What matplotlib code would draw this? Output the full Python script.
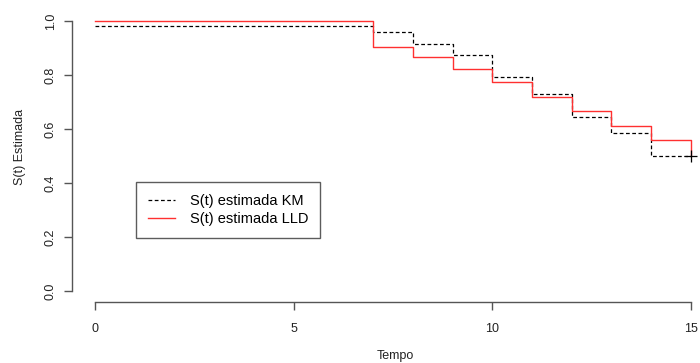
import matplotlib
matplotlib.use("Agg")
import matplotlib.pyplot as plt

plt.rcParams['font.family'] = ['Liberation Sans', 'DejaVu Sans']

# survival data
tempo = [0, 7, 8, 9, 10, 11, 12, 13, 14, 15]
s_km = [0.980, 0.958, 0.916, 0.875, 0.791, 0.728, 0.646, 0.584, 0.501, 0.501]
s_lld = [1.000, 0.905, 0.866, 0.822, 0.775, 0.720, 0.667, 0.611, 0.559, 0.501]
x_ticks = [0, 5, 10, 15]
y_ticks = [0.0, 0.2, 0.4, 0.6, 0.8, 1.0]
legend_labels = ["S(t) estimada KM", "S(t) estimada LLD"]

fig = plt.figure(figsize=(7, 3.63), dpi=100)
ax = fig.add_axes([72 / 700, 61 / 363, 628 / 700, (302 - 10) / 363])

ax.step(tempo, s_km, where='post', color='black', lw=0.9, ls=(0, (3, 2)),
        label=legend_labels[0])
ax.step(tempo, s_lld, where='post', color='#ff3030', lw=1.0,
        label=legend_labels[1])
ax.plot([tempo[-1]], [s_km[-1]], marker='+', color='black', ms=9, mew=0.9)

ax.set_xlim(-0.579, 15.23)
ax.set_ylim(-0.04, 1.04)

for s in ['top', 'right']:
    ax.spines[s].set_visible(False)
ax.spines['left'].set_bounds(0, 1)
ax.spines['bottom'].set_bounds(0, 15)
for s in ['left', 'bottom']:
    ax.spines[s].set_color('#555555')
    ax.spines[s].set_linewidth(1.0)

ax.set_xticks(x_ticks)
ax.set_xticklabels([str(v) for v in x_ticks])
ax.set_yticks(y_ticks)
ax.set_yticklabels(["%.1f" % v for v in y_ticks], rotation=90, va='center')
ax.tick_params(axis='both', length=6, width=1.0, color='#555555',
               labelsize=9, labelcolor='#222222')
ax.tick_params(axis='x', pad=9)
ax.tick_params(axis='y', pad=5)

ax.set_xlabel("Tempo", fontsize=9, color='#222222')
ax.xaxis.set_label_coords((395 - 72) / 628, -0.165)
ax.set_ylabel("S(t) Estimada", fontsize=9, color='#222222')
ax.yaxis.set_label_coords(-0.073, 0.53)

leg = ax.legend(loc='upper left', bbox_to_anchor=((136 - 72) / 628, (302 - 182) / 292),
                frameon=True, fancybox=False, fontsize=10.5, handlelength=1.9,
                borderpad=0.8, labelspacing=0.3, handletextpad=1.0,
                borderaxespad=0)
leg.get_frame().set_edgecolor('#333333')
leg.get_frame().set_linewidth(1.0)

fig.savefig("out.png", dpi=100)
